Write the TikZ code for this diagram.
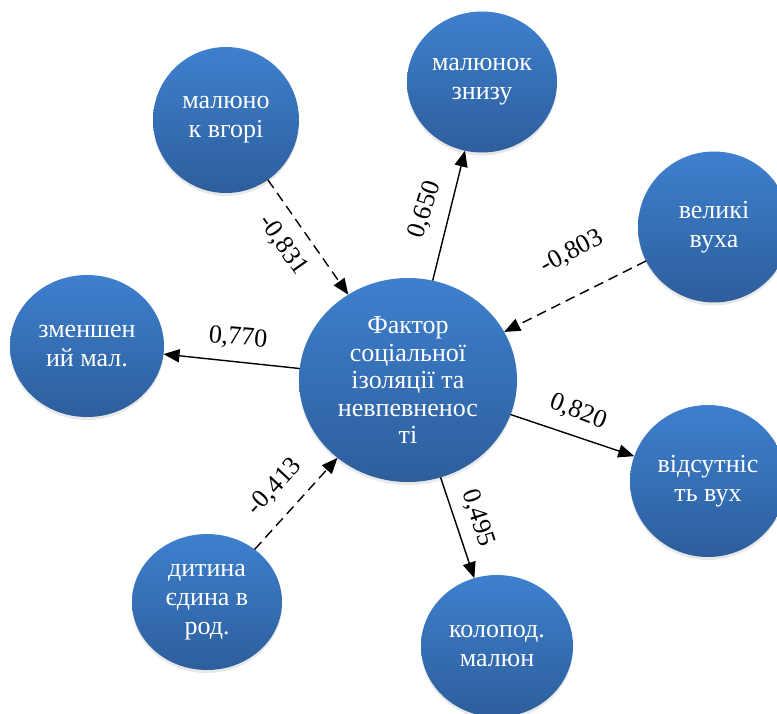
\documentclass[tikz,border=0pt]{standalone}
\usepackage{fontspec}
\setmainfont{Liberation Serif}
\usetikzlibrary{shapes.geometric,arrows.meta,shadows}
\definecolor{ctop}{RGB}{62,128,206}
\definecolor{cbot}{RGB}{45,94,156}
\tikzset{
  bubble/.style={ellipse, inner sep=0pt, outer sep=0pt, draw=none,
    top color=ctop, bottom color=cbot, text=white, align=center,
    font=\fontsize{26}{29}\selectfont,
    drop shadow={opacity=0.18, shadow xshift=0pt, shadow yshift=-3pt}},
  bigbubble/.style={bubble, font=\fontsize{26}{27.5}\selectfont},
  conn/.style={line width=1.4pt, -{Triangle[length=16pt,width=13pt]}},
  dconn/.style={conn, dash pattern=on 10pt off 6pt},
  lbl/.style={font=\fontsize{26}{28}\selectfont, inner sep=1pt}
}
\begin{document}
\begin{tikzpicture}[x=1pt,y=-1pt]
\useasboundingbox (0,0) rectangle (777,714);
\node[bigbubble, minimum width=218pt, minimum height=204pt] (c) at (408,380)
  {Фактор\\соціальної\\ізоляції та\\невпевненос\\ті};
\node[bubble, minimum width=146pt, minimum height=146pt] (a) at (226,120) {малюно\\к вгорі};
\node[bubble, minimum width=150pt, minimum height=141pt] (b) at (482,82) {малюнок\\знизу};
\node[bubble, minimum width=152pt, minimum height=151pt] (v) at (714,227) {великі\\вуха};
\node[bubble, minimum width=154pt, minimum height=142pt] (z) at (87,346) {зменшен\\ий мал.};
\node[bubble, minimum width=156pt, minimum height=152pt] (s) at (708,481) {відсутніс\\ть вух};
\node[bubble, minimum width=152pt, minimum height=142pt] (k) at (497,646) {колопод.\\малюн};
\node[bubble, minimum width=150pt, minimum height=136pt] (d) at (207,602) {дитина\\єдина в\\род.};

\draw[dconn] (a) -- (c);
\draw[conn] (c) -- (b);
\draw[dconn] (v) -- (c);
\draw[conn] (c) -- (z);
\draw[conn] (c) -- (s);
\draw[dconn] (d) -- (c);
\draw[conn] (c) -- (k);

\node[lbl, rotate=-55] (la) at (283,245) {-0,831};
\node[lbl, rotate=72] (lb) at (425,210) {0,650};
\node[lbl, rotate=28] (lv) at (572,252) {-0,803};
\node[lbl, rotate=-5] (lz) at (238,338) {0,770};
\node[lbl, rotate=-21] (ls) at (578,412) {0,820};
\node[lbl, rotate=47] (ld) at (275,487) {-0,413};
\node[lbl, rotate=-72] (lk) at (478,518) {0,495};
\end{tikzpicture}
\end{document}
